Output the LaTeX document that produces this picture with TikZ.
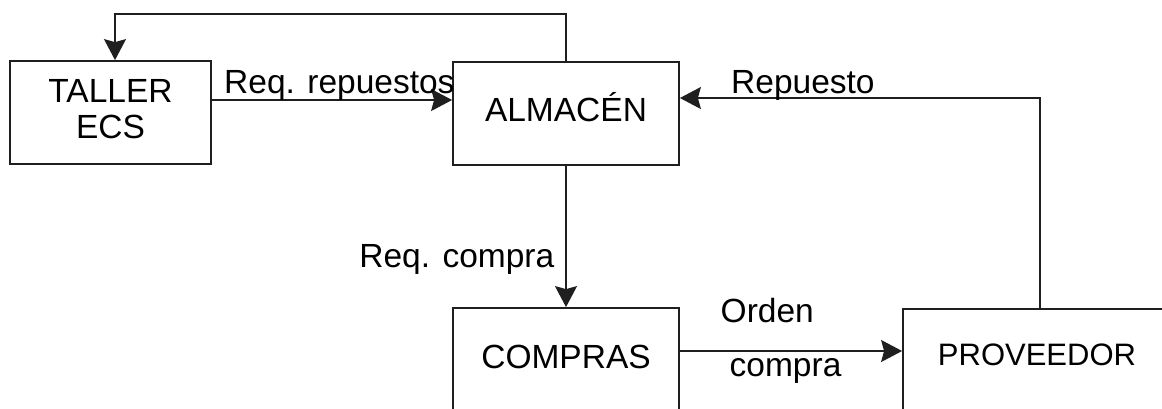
\documentclass[tikz,border=0pt]{standalone}
\usepackage{fontspec}
\setmainfont{Liberation Sans}
\usetikzlibrary{arrows.meta}
\begin{document}
\begin{tikzpicture}[x=1pt,y=-1pt,
  ink/.style={draw=black!88, line width=1.8pt},
  box/.style={ink, rectangle, inner sep=0pt, minimum height=103pt,
    font=\fontsize{33.5}{36}\selectfont, text height=24pt, text depth=8pt},
  lbl/.style={inner sep=0pt, font=\fontsize{33.5}{36}\selectfont},
  flow/.style={draw=black!88, line width=1.6pt,
    -{Stealth[length=21pt,width=22pt,inset=3pt]}}]
  \useasboundingbox (0,0) rectangle (1162,408);
  % process boxes
  \node[box, minimum width=201pt, align=center, text height=, text depth=8pt]
    (taller) at (110.5,112.5) {TALLER\\ECS};
  \node[box, minimum width=226pt] (almacen) at (566,113.5) {ALMACÉN};
  \node[box, minimum width=226pt, text depth=7pt] (compras) at (566,359.5) {COMPRAS};
  \node[box, minimum width=268pt, text depth=12pt,
    font=\fontsize{31}{36}\selectfont, text height=22pt]
    (proveedor) at (1037,360.5) {PROVEEDOR};
  % flows
  \draw[flow] ([yshift=12.5pt]taller.east) -- ([yshift=13.5pt]almacen.west);
  \draw[flow] (almacen.north) -- ++(0,-47) -| ([xshift=4.5pt]taller.north);
  \draw[flow] ([xshift=3pt]proveedor.north) |- ([yshift=15.5pt]almacen.east);
  \draw[flow] (almacen.south) -- (compras.north);
  \draw[flow] ([yshift=8.5pt]compras.east) -- ([yshift=9.5pt]proveedor.west);
  % flow labels
  \node[lbl, anchor=base west] (lreq) at (224,93) {Req. repuestos};
  \node[lbl, anchor=base west] (lrep) at (731,93) {Repuesto};
  \node[lbl, anchor=base east] (lcomp) at (554.5,267) {Req. compra};
  \node[lbl, anchor=base west] (lord) at (720.5,322) {Orden};
  \node[lbl, anchor=base west] (lordc) at (729.5,376) {compra};
\end{tikzpicture}
\end{document}
